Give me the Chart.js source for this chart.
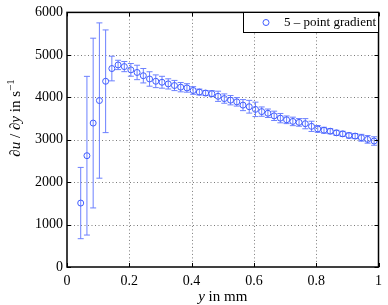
<!DOCTYPE html>
<html><head><meta charset="utf-8">
<script src="https://cdn.jsdelivr.net/npm/chart.js@4/dist/chart.umd.min.js"></script>
<style>html,body{margin:0;padding:0;background:#fff}#wrap{width:388px;height:305px}</style>
</head><body>
<div id="wrap"><canvas id="c"></canvas></div>
<script>
const yPositionMm = [0.044,0.064,0.084,0.104,0.124,0.144,0.164,0.184,0.205,0.225,0.245,0.265,0.285,0.305,0.325,0.345,0.365,0.385,0.405,0.425,0.445,0.465,0.485,0.505,0.525,0.545,0.565,0.585,0.605,0.625,0.645,0.665,0.685,0.705,0.725,0.745,0.765,0.785,0.805,0.825,0.845,0.865,0.885,0.905,0.925,0.945,0.965,0.986];
const gradient = [1507,2623,3392,3923,4377,4677,4762,4723,4646,4585,4508,4431,4377,4354,4315,4277,4238,4220,4160,4123,4100,4085,4023,3969,3931,3892,3815,3777,3715,3662,3623,3562,3508,3469,3431,3408,3377,3315,3254,3223,3200,3162,3138,3100,3085,3046,3008,2969];
const gradientErr = [840,1870,2000,1830,1210,290,110,120,150,170,170,170,150,140,120,120,110,100,90,70,60,70,120,110,110,100,130,150,170,110,100,110,110,90,100,90,120,120,80,70,60,60,60,60,60,80,90,100];
const xTickValues = [0,0.2,0.4,0.6,0.8,1];
const yTickValues = [0,1000,2000,3000,4000,5000,6000];
const seriesLabel = '5 – point gradient';

const SERIF = '"Liberation Serif", "DejaVu Serif", serif';
const markColor = '#3f5cff';
const barColor = '#6c80ff';

function drawPieces(ctx, pieces, x, y) {
  let cx = x;
  for (const p of pieces) {
    ctx.font = (p.italic ? 'italic ' : '') + p.size + 'px ' + SERIF;
    ctx.fillText(p.t, cx, y - (p.raise || 0));
    cx += ctx.measureText(p.t).width;
  }
  return cx - x;
}
function measurePieces(ctx, pieces) {
  let w = 0;
  for (const p of pieces) {
    ctx.font = (p.italic ? 'italic ' : '') + p.size + 'px ' + SERIF;
    w += ctx.measureText(p.t).width;
  }
  return w;
}

const decor = {
  id: 'decor',
  beforeDatasetsDraw(chart) {
    const ctx = chart.ctx, a = chart.chartArea, xs = chart.scales.x, ys = chart.scales.y;
    ctx.save();
    // dotted grid
    ctx.strokeStyle = '#7a7a7a';
    ctx.lineWidth = 1;
    ctx.setLineDash([1, 2.5]);
    ctx.beginPath();
    for (const v of xTickValues) {
      if (v === xTickValues[0] || v === xTickValues[xTickValues.length - 1]) continue;
      const px = Math.round(xs.getPixelForValue(v)) + 0.5;
      ctx.moveTo(px, a.top); ctx.lineTo(px, a.bottom);
    }
    for (const v of yTickValues) {
      if (v === yTickValues[0] || v === yTickValues[yTickValues.length - 1]) continue;
      const py = Math.round(ys.getPixelForValue(v)) + 0.5;
      ctx.moveTo(a.left, py); ctx.lineTo(a.right, py);
    }
    ctx.stroke();
    ctx.setLineDash([]);
    // error bars
    ctx.strokeStyle = barColor;
    ctx.lineWidth = 1;
    for (let i = 0; i < yPositionMm.length; i++) {
      const px = xs.getPixelForValue(yPositionMm[i]);
      const top = ys.getPixelForValue(gradient[i] + gradientErr[i]);
      const bot = ys.getPixelForValue(gradient[i] - gradientErr[i]);
      ctx.beginPath();
      ctx.moveTo(px, top); ctx.lineTo(px, bot);
      ctx.moveTo(px - 3, top); ctx.lineTo(px + 3, top);
      ctx.moveTo(px - 3, bot); ctx.lineTo(px + 3, bot);
      ctx.stroke();
    }
    ctx.restore();
  },
  afterDraw(chart) {
    const ctx = chart.ctx, a = chart.chartArea, xs = chart.scales.x, ys = chart.scales.y;
    ctx.save();
    // inward ticks
    ctx.strokeStyle = '#000';
    ctx.lineWidth = 1;
    ctx.beginPath();
    for (const v of xTickValues) {
      const px = Math.round(xs.getPixelForValue(v)) + 0.5;
      ctx.moveTo(px, a.bottom); ctx.lineTo(px, a.bottom - 4);
      ctx.moveTo(px, a.top); ctx.lineTo(px, a.top + 4);
    }
    for (const v of yTickValues) {
      const py = Math.round(ys.getPixelForValue(v)) + 0.5;
      ctx.moveTo(a.left, py); ctx.lineTo(a.left + 4, py);
      ctx.moveTo(a.right, py); ctx.lineTo(a.right - 4, py);
    }
    ctx.stroke();
    // frame
    ctx.lineWidth = 1.5;
    ctx.strokeRect(a.left, a.top, a.right - a.left, a.bottom - a.top);
    // legend
    const lx = 243, ly = 12, lw = 135, lh = 20;
    ctx.fillStyle = '#fff';
    ctx.fillRect(lx, ly, lw, lh);
    ctx.lineWidth = 1;
    ctx.strokeStyle = '#000';
    ctx.strokeRect(lx + 0.5, ly + 0.5, lw, lh);
    ctx.strokeStyle = markColor;
    ctx.beginPath();
    ctx.arc(266, ly + lh / 2 + 0.5, 3, 0, Math.PI * 2);
    ctx.stroke();
    ctx.fillStyle = '#000';
    ctx.font = '13px ' + SERIF;
    ctx.textBaseline = 'middle';
    ctx.textAlign = 'left';
    ctx.fillText(seriesLabel, 284, ly + lh / 2 + 1);
    // x title
    ctx.textBaseline = 'alphabetic';
    const xt = [{t:'y', italic:true, size:15}, {t:' in mm', size:15}];
    const xw = measurePieces(ctx, xt);
    drawPieces(ctx, xt, (a.left + a.right) / 2 - xw / 2, 301);
    // y title
    const yt = [{t:'∂', size:15}, {t:'u', italic:true, size:15}, {t:' / ∂', size:15}, {t:'y', italic:true, size:15}, {t:' in s', size:15}, {t:'−1', size:11, raise:6}];
    const yw = measurePieces(ctx, yt);
    ctx.translate(20, 118);
    ctx.rotate(-Math.PI / 2);
    drawPieces(ctx, yt, -yw / 2, 0);
    ctx.restore();
  }
};

new Chart(document.getElementById('c'), {
  type: 'scatter',
  data: {
    datasets: [{
      label: seriesLabel,
      data: yPositionMm.map((x, i) => ({ x, y: gradient[i] })),
      showLine: false,
      pointStyle: 'circle',
      pointRadius: 3,
      pointHoverRadius: 3,
      pointBorderWidth: 1,
      borderColor: markColor,
      backgroundColor: 'rgba(0,0,0,0)'
    }]
  },
  options: {
    responsive: true,
    maintainAspectRatio: false,
    animation: false,
    events: [],
    layout: { padding: { left: 0, top: 7, right: 5, bottom: 0 } },
    plugins: { legend: { display: false }, tooltip: { enabled: false } },
    scales: {
      x: {
        type: 'linear', min: 0, max: 1,
        afterBuildTicks: s => { s.ticks = xTickValues.map(v => ({ value: v })); },
        afterFit: s => { s.height = 38; },
        border: { display: false },
        grid: { display: false, drawTicks: false },
        ticks: { color: '#000', padding: 6, font: { family: SERIF, size: 14 }, maxRotation: 0,
          callback: v => String(Math.round(v * 10) / 10) }
      },
      y: {
        type: 'linear', min: 0, max: 6000,
        afterBuildTicks: s => { s.ticks = yTickValues.map(v => ({ value: v })); },
        afterFit: s => { s.width = 67; },
        border: { display: false },
        grid: { display: false, drawTicks: false },
        ticks: { color: '#000', padding: 4, font: { family: SERIF, size: 14 }, callback: v => String(v) }
      }
    }
  },
  plugins: [decor]
});
</script>
</body></html>
